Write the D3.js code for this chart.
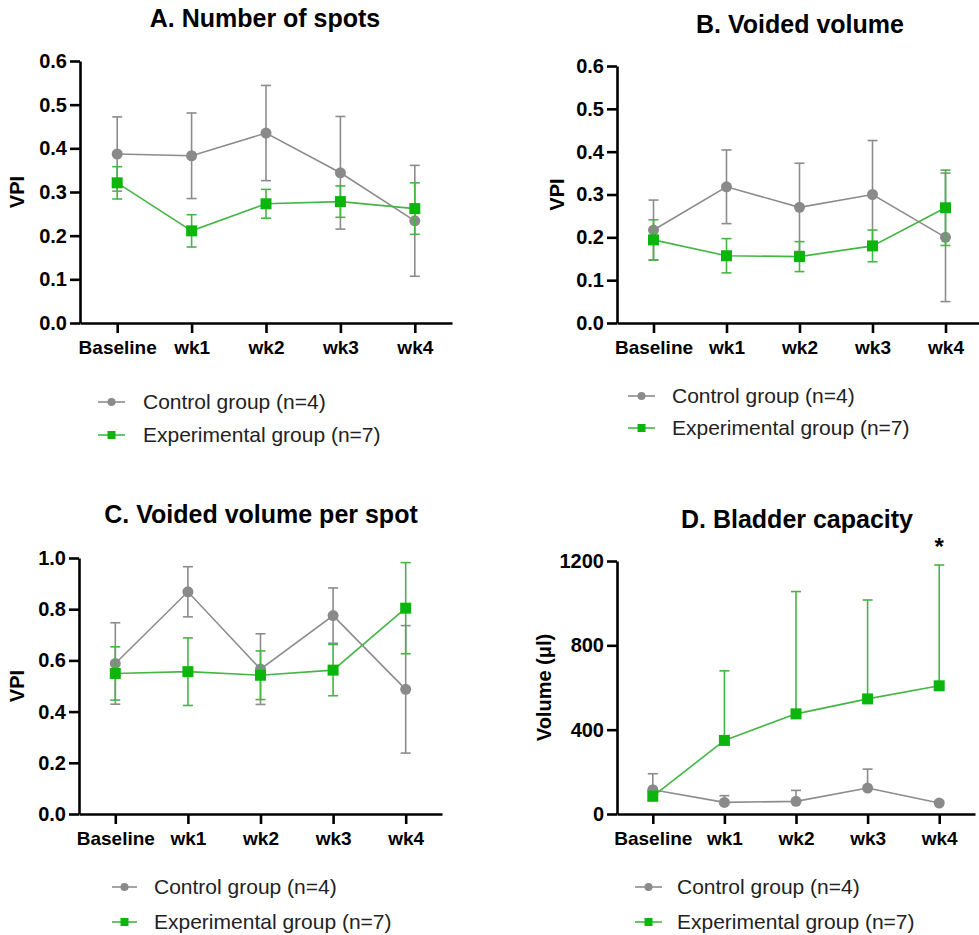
<!DOCTYPE html>
<html>
<head>
<meta charset="utf-8">
<script src="https://cdn.jsdelivr.net/npm/d3@7"></script>
<style>
  body { margin: 0; background: #fff; }
  svg { font-family: "Liberation Sans", Arial, sans-serif; }
</style>
</head>
<body>
<svg id="chart" width="979" height="935"></svg>
<script>
const timepoints = ['Baseline', 'wk1', 'wk2', 'wk3', 'wk4'];
const seriesNames = ['Control group (n=4)', 'Experimental group (n=7)'];

// A. number of spots
const spotsCtrlMean = [0.387, 0.383, 0.435, 0.344, 0.234];
const spotsCtrlErr = [0.085, 0.098, 0.109, 0.129, 0.127];
const spotsExpMean = [0.321, 0.211, 0.273, 0.278, 0.262];
const spotsExpErr = [0.037, 0.037, 0.033, 0.036, 0.059];

// B. voided volume
const volCtrlMean = [0.217, 0.318, 0.270, 0.300, 0.200];
const volCtrlErr = [0.070, 0.086, 0.103, 0.126, 0.150];
const volExpMean = [0.194, 0.157, 0.155, 0.180, 0.269];
const volExpErr = [0.047, 0.040, 0.035, 0.037, 0.088];

// C. voided volume per spot
const perSpotCtrlMean = [0.588, 0.868, 0.566, 0.775, 0.487];
const perSpotCtrlErr = [0.159, 0.098, 0.138, 0.108, 0.249];
const perSpotExpMean = [0.549, 0.556, 0.542, 0.562, 0.804];
const perSpotExpErr = [0.104, 0.132, 0.095, 0.100, 0.178];

// D. bladder capacity (upper error bars only)
const capCtrlMean = [115, 55, 60, 123, 52];
const capCtrlErr = [76, 32, 52, 90, 8];
const capExpMean = [84, 349, 475, 546, 608];
const capExpErr = [30, 330, 580, 469, 573];

const ticksVPI6 = [0, 0.1, 0.2, 0.3, 0.4, 0.5, 0.6];
const ticksVPI10 = [0, 0.2, 0.4, 0.6, 0.8, 1.0];
const ticksVol = [0, 400, 800, 1200];

const grey = '#8a8a8a', greyLine = '#8c8c8c';
const green = '#0cb50c', greenLine = '#45b545';

const panels = [
  { title: 'A. Number of spots', ylab: 'VPI', ctrl: [spotsCtrlMean, spotsCtrlErr], exp: [spotsExpMean, spotsExpErr],
    ymax: 0.6, ticks: ticksVPI6, fmt: d3.format('.1f'), oneSided: false,
    l: 80, r: 452, t: 61, b: 323, titleX: 265, titleY: 27, ylabX: 17,
    leg: { x1: 98, x2: 125, tx: 143, y: [402, 435] } },
  { title: 'B. Voided volume', ylab: 'VPI', ctrl: [volCtrlMean, volCtrlErr], exp: [volExpMean, volExpErr],
    ymax: 0.6, ticks: ticksVPI6, fmt: d3.format('.1f'), oneSided: false,
    l: 617, r: 982, t: 66, b: 323, titleX: 800, titleY: 33, ylabX: 557,
    leg: { x1: 628, x2: 655, tx: 672, y: [396, 428] } },
  { title: 'C. Voided volume per spot', ylab: 'VPI', ctrl: [perSpotCtrlMean, perSpotCtrlErr], exp: [perSpotExpMean, perSpotExpErr],
    ymax: 1.0, ticks: ticksVPI10, fmt: d3.format('.1f'), oneSided: false,
    l: 79, r: 442, t: 558, b: 814, titleX: 261, titleY: 523, ylabX: 17,
    leg: { x1: 112, x2: 137, tx: 154, y: [887, 922] } },
  { title: 'D. Bladder capacity', ylab: 'Volume (\u03bcl)', ctrl: [capCtrlMean, capCtrlErr], exp: [capExpMean, capExpErr],
    ymax: 1200, ticks: ticksVol, fmt: d3.format('d'), oneSided: true, star: 4,
    l: 617, r: 975, t: 561, b: 814, titleX: 797, titleY: 528, ylabX: 544,
    leg: { x1: 635, x2: 662, tx: 677, y: [887, 922] } }
];

const svg = d3.select('#chart');

function drawMarker(sel, kind, x, y) {
  if (kind === 'ctrl') {
    sel.append('circle').attr('cx', x).attr('cy', y).attr('r', 5.5).attr('fill', grey);
  } else {
    sel.append('rect').attr('x', x - 5.5).attr('y', y - 5.5).attr('width', 11).attr('height', 11).attr('fill', green);
  }
}

for (let p of panels) {
  let g = svg.append('g');

  let x = d3.scalePoint().domain(timepoints).range([p.l, p.r]).padding(0.5);
  let y = d3.scaleLinear().domain([0, p.ymax]).range([p.b, p.t]);

  g.append('text')
    .attr('x', p.titleX).attr('y', p.titleY)
    .attr('text-anchor', 'middle')
    .style('font-size', '25px').style('font-weight', 'bold')
    .text(p.title);

  let yAxis = g.append('g')
    .attr('transform', `translate(${p.l},0)`)
    .call(d3.axisLeft(y).tickValues(p.ticks).tickFormat(p.fmt).tickSize(10).tickSizeOuter(0).tickPadding(3));

  let xAxis = g.append('g')
    .attr('transform', `translate(0,${p.b})`)
    .call(d3.axisBottom(x).tickSize(10).tickSizeOuter(0).tickPadding(8));

  for (let ax of [xAxis, yAxis]) {
    ax.selectAll('path, line').attr('stroke', '#000').attr('stroke-width', 2.6);
    ax.selectAll('text').attr('fill', '#000')
      .style('font-size', '19px').style('font-weight', 'bold')
      .style('font-family', '"Liberation Sans", Arial, sans-serif');
  }
  yAxis.selectAll('text').style('font-size', '20px');

  g.append('text')
    .attr('transform', `translate(${p.ylabX + 7},${(p.t + p.b) / 2}) rotate(-90)`)
    .attr('text-anchor', 'middle')
    .style('font-size', '20px').style('font-weight', 'bold')
    .text(p.ylab);

  let series = [
    { kind: 'ctrl', mean: p.ctrl[0], err: p.ctrl[1], line: greyLine },
    { kind: 'exp', mean: p.exp[0], err: p.exp[1], line: greenLine }
  ];

  for (let s of series) {
    let pts = timepoints.map((t, i) => ({ t: t, m: s.mean[i], e: s.err[i] }));

    // error bars
    let eb = g.append('g').attr('stroke', s.line).attr('stroke-width', 1.6);
    for (let d of pts) {
      let lo = p.oneSided ? d.m : d.m - d.e;
      let hi = d.m + d.e;
      let cx = x(d.t);
      eb.append('line').attr('x1', cx).attr('x2', cx).attr('y1', y(lo)).attr('y2', y(hi));
      eb.append('line').attr('x1', cx - 5).attr('x2', cx + 5).attr('y1', y(hi)).attr('y2', y(hi));
      if (!p.oneSided) {
        eb.append('line').attr('x1', cx - 5).attr('x2', cx + 5).attr('y1', y(lo)).attr('y2', y(lo));
      }
    }

    g.append('path')
      .datum(pts)
      .attr('fill', 'none')
      .attr('stroke', s.line)
      .attr('stroke-width', 1.6)
      .attr('d', d3.line().x(d => x(d.t)).y(d => y(d.m)));

    let mk = g.append('g');
    for (let d of pts) drawMarker(mk, s.kind, x(d.t), y(d.m));
  }

  if (p.star !== undefined) {
    let i = p.star;
    g.append('text')
      .attr('x', x(timepoints[i])).attr('y', y(p.exp[0][i] + p.exp[1][i]) - 10)
      .attr('text-anchor', 'middle')
      .style('font-size', '24px').style('font-weight', 'bold')
      .text('*');
  }

  // legend
  let lg = g.append('g');
  seriesNames.forEach((name, i) => {
    let ly = p.leg.y[i];
    let kind = i === 0 ? 'ctrl' : 'exp';
    lg.append('line')
      .attr('x1', p.leg.x1).attr('x2', p.leg.x2).attr('y1', ly).attr('y2', ly)
      .attr('stroke', i === 0 ? greyLine : greenLine).attr('stroke-width', 1.6);
    let mx = (p.leg.x1 + p.leg.x2) / 2;
    if (kind === 'ctrl') {
      lg.append('circle').attr('cx', mx).attr('cy', ly).attr('r', 4).attr('fill', grey);
    } else {
      lg.append('rect').attr('x', mx - 4).attr('y', ly - 4).attr('width', 8).attr('height', 8).attr('fill', green);
    }
    lg.append('text')
      .attr('x', p.leg.tx).attr('y', ly).attr('dy', '0.35em')
      .style('font-size', '21px').attr('fill', '#222')
      .text(name);
  });
}
</script>
</body>
</html>
